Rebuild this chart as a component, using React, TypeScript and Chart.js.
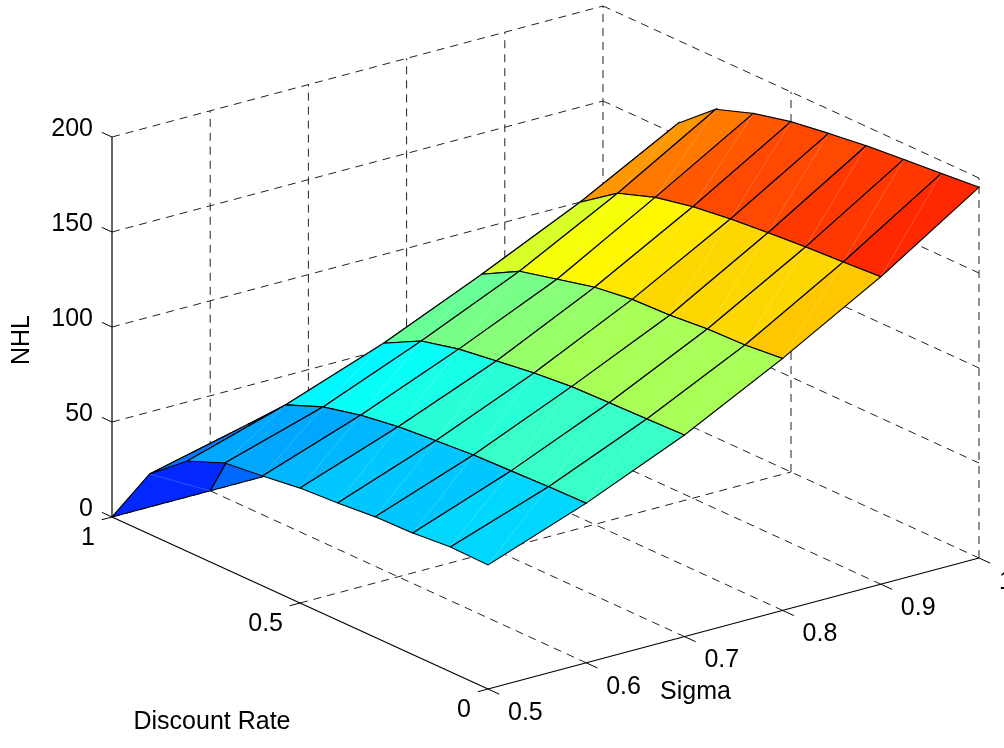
import React, { useEffect, useRef } from "react";
import { Chart, registerables } from "chart.js";

Chart.register(...registerables);

const sigmaValues = [0.5, 0.6, 0.7, 0.8, 0.9, 1];
const discountValues = [1, 0.9, 0.8, 0.7, 0.6, 0.5, 0.4, 0.3, 0.2, 0.1, 0];
const nhlSigma05 = [0, 31.7, 47.6, 55.6, 57.8, 60.5, 61.7, 63.5, 64, 65.7, 65.3];
const nhlSigma06 = [0, 44, 63.3, 71.3, 76, 79, 80.7, 82.2, 82.9, 83.6, 84];
const nhlSigma07 = [0, 56, 82, 92.2, 97, 99.8, 102.5, 104.4, 105, 105.5, 106.1];
const nhlSigma08 = [0, 71, 104.5, 115.1, 120, 124.8, 127.5, 128.2, 130, 130.6, 132.6];
const nhlSigma09 = [0, 87, 128.6, 142.4, 149.3, 153.4, 156, 157.8, 159.4, 160.5, 161.8];
const nhlSigma10 = [0, 106, 156.4, 172.8, 179.7, 184.4, 187.3, 189.8, 191.7, 193.4, 195.1];
const nhlRows = [nhlSigma05, nhlSigma06, nhlSigma07, nhlSigma08, nhlSigma09, nhlSigma10];

const sigmaTicks = [0.5, 0.6, 0.7, 0.8, 0.9, 1];
const discountTicks = [0, 0.5, 1];
const nhlTicks = [0, 50, 100, 150, 200];
const sigmaTitle = "Sigma";
const discountTitle = "Discount Rate";
const nhlTitle = "NHL";

const WIDTH = 1004;
const HEIGHT = 748;
const COLOR_MAX = 195.1;

// Orthographic view of the 3-D box onto the hidden 2-D scales.
function project(s: number, d: number, z: number) {
  return {
    x: 112 + (s - 0.5) * 982 + (1 - d) * 376,
    y: 517 - (s - 0.5) * 262 + (1 - d) * 172 - z * 1.9,
  };
}

// MATLAB jet, 64 levels
function jet(value: number) {
  const level = Math.min(63, Math.floor((value / COLOR_MAX) * 64));
  const t = (level + 0.5) / 64;
  const ramp = (c: number) => Math.max(0, Math.min(1, 1.5 - Math.abs(4 * t - c)));
  const r = Math.round(ramp(3) * 255);
  const g = Math.round(ramp(2) * 255);
  const b = Math.round(ramp(1) * 255);
  return `rgb(${r},${g},${b})`;
}

function line(points: { x: number; y: number }[], color: string, width: number, dash: number[] = []) {
  return {
    type: "scatter" as const,
    showLine: true,
    data: points,
    borderColor: color,
    borderWidth: width,
    borderDash: dash,
    pointRadius: 0,
    tension: 0,
    fill: false,
    clip: false,
  };
}

function buildDatasets() {
  const back: any[] = [];
  const DASH = [8, 6];
  const GRID = "#222222";
  const sMin = sigmaValues[0];
  const sMax = sigmaValues[sigmaValues.length - 1];
  const zMax = nhlTicks[nhlTicks.length - 1];

  // walls and floor grid
  for (const z of nhlTicks) {
    back.push(line([project(sMin, 1, z), project(sMax, 1, z)], GRID, 1, DASH));
    back.push(line([project(sMax, 1, z), project(sMax, 0, z)], GRID, 1, DASH));
  }
  for (const s of sigmaTicks.slice(1)) {
    back.push(line([project(s, 1, 0), project(s, 1, zMax)], GRID, 1, DASH));
    if (s < sMax) back.push(line([project(s, 1, 0), project(s, 0, 0)], GRID, 1, DASH));
  }
  for (const d of discountTicks.slice(0, 2)) {
    back.push(line([project(sMax, d, 0), project(sMax, d, zMax)], GRID, 1, DASH));
  }
  back.push(line([project(sMin, 0.5, 0), project(sMax, 0.5, 0)], GRID, 1, DASH));

  // axes and tick marks
  back.push(line([project(sMin, 1, 0), project(sMin, 1, zMax)], "#000000", 1.2));
  back.push(line([project(sMin, 1, 0), project(sMin, 0, 0)], "#000000", 1.2));
  back.push(line([project(sMin, 0, 0), project(sMax, 0, 0)], "#000000", 1.2));
  for (const z of nhlTicks) {
    back.push(line([project(sMin, 1, z), project(sMin, 1.027, z)], "#000000", 1));
  }
  for (const s of sigmaTicks) {
    back.push(line([project(s, 0, 0), project(s, -0.03, 0)], "#000000", 1));
  }
  for (const d of discountTicks) {
    back.push(line([project(sMin, d, 0), project(sMin - 0.0105, d, 0)], "#000000", 1));
  }

  // surface, far cells first
  for (let i = sigmaValues.length - 2; i >= 0; i--) {
    for (let j = 0; j < discountValues.length - 1; j++) {
      const a = project(sigmaValues[i], discountValues[j], nhlRows[i][j]);
      const b = project(sigmaValues[i + 1], discountValues[j], nhlRows[i + 1][j]);
      const c = project(sigmaValues[i + 1], discountValues[j + 1], nhlRows[i + 1][j + 1]);
      const e = project(sigmaValues[i], discountValues[j + 1], nhlRows[i][j + 1]);
      back.push({
        ...line([a, b, c, e, a], "#000000", 1.15),
        fill: "shape",
        backgroundColor: jet(nhlRows[i][j + 1]),
      });
      back.push(line([e, b], "rgba(255,255,255,0.28)", 0.7));
    }
  }
  return back.reverse(); // the first dataset is painted last
}

const textPlugin = {
  id: "boxText",
  afterDatasetsDraw(chart: any) {
    const { ctx, scales } = chart;
    const put = (
      text: string,
      p: { x: number; y: number },
      dx: number,
      dy: number,
      align: CanvasTextAlign,
      size: number,
      rotate = 0
    ) => {
      ctx.save();
      ctx.translate(scales.x.getPixelForValue(p.x) + dx, scales.y.getPixelForValue(p.y) + dy);
      ctx.rotate(rotate);
      ctx.font = `${size}px "Liberation Sans", Arial, sans-serif`;
      ctx.textAlign = align;
      ctx.textBaseline = "middle";
      ctx.fillStyle = "#000000";
      ctx.fillText(text, 0, 0);
      ctx.restore();
    };
    for (const z of nhlTicks) put(String(z), project(0.5, 1, z), -19, -8, "right", 25);
    for (const s of sigmaTicks) put(String(s), project(s, 0, 0), 20, 24, "left", 25);
    for (const d of discountTicks) put(String(d), project(0.5, d, 0), -17, 21, "right", 25);
    put(sigmaTitle, project(0.75, 0, 0), -38, 69, "center", 25);
    put(discountTitle, project(0.5, 0.5, 0), -88, 119, "center", 25);
    put(nhlTitle, project(0.5, 1, 100), -90, 13, "center", 25, -Math.PI / 2);
  },
};

export default function App() {
  const ref = useRef<HTMLCanvasElement | null>(null);
  useEffect(() => {
    if (!ref.current) return;
    const chart = new Chart(ref.current, {
      type: "scatter",
      data: { datasets: buildDatasets() },
      plugins: [textPlugin],
      options: {
        animation: false,
        responsive: false,
        layout: { padding: 0 },
        plugins: { legend: { display: false }, tooltip: { enabled: false } },
        scales: {
          x: { type: "linear", display: false, min: 0, max: WIDTH },
          y: { type: "linear", display: false, min: 0, max: HEIGHT, reverse: true },
        },
      },
    } as any);
    return () => chart.destroy();
  }, []);
  return (
    <div style={{ position: "absolute", left: 0, top: 0, width: WIDTH, height: HEIGHT, background: "#fff" }}>
      <canvas ref={ref} width={WIDTH} height={HEIGHT} style={{ display: "block" }} />
    </div>
  );
}
